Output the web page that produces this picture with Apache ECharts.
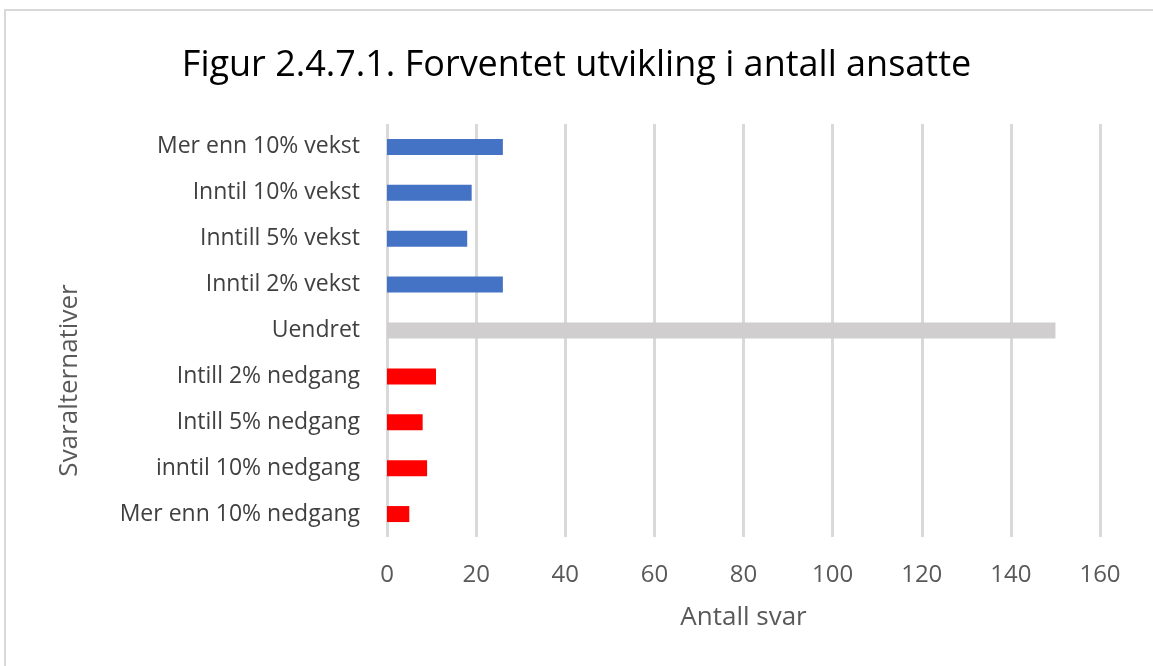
<!DOCTYPE html>
<html>
<head>
<meta charset="utf-8">
<script src="https://cdn.jsdelivr.net/npm/echarts@6/dist/echarts.min.js"></script>
<style>
    html, body { margin: 0; padding: 0; background: #fff; }
    #frame { position: absolute; left: 4px; top: 9px; width: 1160px; height: 670px;
        border-top: 2px solid #d9d9d9; border-left: 2px solid #d9d9d9; }
    #chart { width: 1153px; height: 666px; }
</style>
</head>
<body>
<div id="frame"></div>
<div id="chart"></div>
<script>
    var categories = ['Mer enn 10% vekst', 'Inntil 10% vekst', 'Inntill 5% vekst', 'Inntil 2% vekst',
        'Uendret', 'Intill 2% nedgang', 'Intill 5% nedgang', 'inntil 10% nedgang', 'Mer enn 10% nedgang'];
    var values = [26, 19, 18, 26, 150, 11, 8, 9, 5];
    var xTicks = [0, 20, 40, 60, 80, 100, 120, 140, 160];

    // farge per kategori: vekst blå, uendret grå, nedgang rød
    var barColors = ['#4472C4', '#4472C4', '#4472C4', '#4472C4', '#D0CECE', '#FF0000', '#FF0000', '#FF0000', '#FF0000'];

    var chart = echarts.init(document.getElementById('chart'));
    var option = {
        animation: false,
        title: {
            text: 'Figur 2.4.7.1. Forventet utvikling i antall ansatte',
            left: 'center',
            top: 43,
            textStyle: {
                fontFamily: 'Open Sans',
                fontSize: 36,
                fontWeight: 400,
                color: '#000'
            }
        },
        grid: {
            left: 387,
            right: 53,
            top: 124,
            bottom: 129
        },
        xAxis: {
            type: 'value',
            min: xTicks[0],
            max: xTicks[xTicks.length - 1],
            interval: 20,
            name: 'Antall svar',
            nameLocation: 'middle',
            nameGap: 68,
            nameTextStyle: { fontFamily: 'Open Sans', fontSize: 26, color: '#595959' },
            axisLine: { show: false },
            axisTick: { show: false },
            axisLabel: { margin: 26, fontFamily: 'Open Sans', fontSize: 24, color: '#595959' },
            splitLine: { show: true, lineStyle: { color: '#d9d9d9', width: 3 } }
        },
        yAxis: {
            type: 'category',
            data: categories,
            inverse: true,
            name: 'Svaralternativer',
            nameLocation: 'middle',
            nameGap: 304,
            // flytter tittelen litt ned, som i originalen
            nameTextStyle: { fontFamily: 'Open Sans', fontSize: 26, color: '#595959', padding: [0, 100, 0, 0] },
            axisLine: { show: false },
            axisTick: { show: false },
            axisLabel: { margin: 27, fontFamily: 'Open Sans', fontSize: 23, color: '#404040' }
        },
        series: [{
            type: 'bar',
            data: values,
            barWidth: 16,
            itemStyle: {
                color: function (p) { return barColors[p.dataIndex]; }
            }
        }]
    };
    chart.setOption(option);
</script>
</body>
</html>
